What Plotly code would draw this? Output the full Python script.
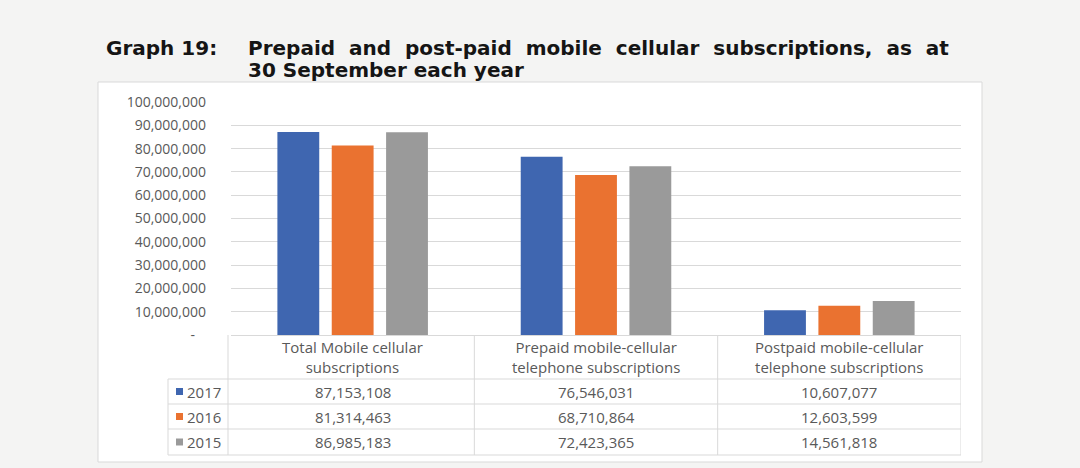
import plotly.graph_objects as go

# ---- data ----
categories = ["Total", "Prepaid", "Postpaid"]
category_labels = [
    "Total Mobile cellular<br>subscriptions",
    "Prepaid mobile-cellular<br>telephone subscriptions",
    "Postpaid mobile-cellular<br>telephone subscriptions",
]
years = ["2017", "2016", "2015"]
values_2017 = [87153108, 76546031, 10607077]
values_2016 = [81314463, 68710864, 12603599]
values_2015 = [86985183, 72423365, 14561818]
tick_values = [0, 10000000, 20000000, 30000000, 40000000, 50000000,
               60000000, 70000000, 80000000, 90000000, 100000000]
tick_labels = ["-\u00a0\u00a0\u00a0", "10,000,000", "20,000,000", "30,000,000", "40,000,000",
               "50,000,000", "60,000,000", "70,000,000", "80,000,000", "90,000,000",
               "100,000,000"]
title_prefix = "Graph 19:"
title_line1 = "Prepaid and post-paid mobile cellular subscriptions, as at"
title_line2 = "30 September each year"

series = [values_2017, values_2016, values_2015]
colors = ["#3f66b0", "#ea7230", "#9a9a9a"]

# ---- layout geometry (pixels) ----
W, H = 1080, 468
L, R, T, B = 231, 961, 102, 335
PW, PH = R - L, B - T


def px_x(x):
    return (x - L) / PW


def px_y(y):
    return (B - y) / PH


grid_col = "#d9d9d9"
txt_col = "#595959"
font_fam = "Open Sans, Liberation Sans, sans-serif"

fig = go.Figure()
for yr, vals, col in zip(years, series, colors):
    fig.add_trace(go.Bar(x=categories, y=vals, name=yr, marker_color=col,
                         marker_line_width=0, showlegend=False))

shapes = []
annotations = []

# chart frame
shapes.append(dict(type="rect", xref="paper", yref="paper",
                   x0=px_x(98), x1=px_x(982), y0=px_y(462), y1=px_y(82),
                   line=dict(color=grid_col, width=1), fillcolor="white", layer="below"))

# data table lines
row_lines = [379, 404, 429, 455]
for y in row_lines:
    shapes.append(dict(type="line", xref="paper", yref="paper",
                       x0=px_x(168), x1=1, y0=px_y(y), y1=px_y(y),
                       line=dict(color=grid_col, width=1)))
shapes.append(dict(type="line", xref="paper", yref="paper",
                   x0=px_x(168), x1=px_x(168), y0=px_y(379), y1=px_y(455),
                   line=dict(color=grid_col, width=1)))
shapes.append(dict(type="line", xref="paper", yref="paper",
                   x0=px_x(228), x1=px_x(228), y0=px_y(335), y1=px_y(455),
                   line=dict(color=grid_col, width=1)))
for xb in [0.5, 1.5, 2.5]:
    shapes.append(dict(type="line", xref="x", yref="paper",
                       x0=xb, x1=xb, y0=px_y(335), y1=px_y(455),
                       line=dict(color=grid_col, width=1)))

# header labels
for i, lab in enumerate(category_labels):
    annotations.append(dict(x=i, xref="x", y=px_y(357), yref="paper",
                            text=lab, showarrow=False, xanchor="center", yanchor="middle",
                            font=dict(family=font_fam, size=15, color=txt_col)))

row_centers = [391.5, 416.5, 442]
for r, (yr, vals, col) in enumerate(zip(years, series, colors)):
    yc = row_centers[r]
    shapes.append(dict(type="rect", xref="paper", yref="paper",
                       x0=px_x(176), x1=px_x(183), y0=px_y(yc + 3.5), y1=px_y(yc - 3.5),
                       line=dict(width=0), fillcolor=col))
    annotations.append(dict(x=px_x(185), xref="paper", y=px_y(yc), yref="paper",
                            text=yr, showarrow=False, xanchor="left", yanchor="middle",
                            font=dict(family=font_fam, size=15, color=txt_col)))
    for i, v in enumerate(vals):
        annotations.append(dict(x=i, xref="x", y=px_y(yc), yref="paper",
                                text=f"{v:,}", showarrow=False, xanchor="center",
                                yanchor="middle",
                                font=dict(family=font_fam, size=15, color=txt_col)))

# title (justified-looking word spacing)
title_font = dict(family="DejaVu Sans, Verdana, sans-serif", size=20, color="#151515")
line1 = title_line1.replace(" ", " \u00a0")
annotations.append(dict(x=px_x(104), xref="paper", y=px_y(48), yref="paper",
                        text=f"<b>{title_prefix}</b>", showarrow=False,
                        xanchor="left", yanchor="middle", font=title_font))
annotations.append(dict(x=px_x(246), xref="paper", y=px_y(48), yref="paper",
                        text=f"<b>{line1}</b>", showarrow=False,
                        xanchor="left", yanchor="middle", font=title_font))
annotations.append(dict(x=px_x(246), xref="paper", y=px_y(70), yref="paper",
                        text=f"<b>{title_line2}</b>", showarrow=False,
                        xanchor="left", yanchor="middle", font=title_font))

fig.update_layout(
    width=W, height=H,
    margin=dict(l=L, r=W - R, t=T, b=H - B, pad=0),
    paper_bgcolor="#f4f4f3",
    plot_bgcolor="rgba(0,0,0,0)",
    barmode="group", bargap=0.33, bargroupgap=0.23,
    shapes=shapes, annotations=annotations,
    xaxis=dict(showticklabels=False, showgrid=False, zeroline=False,
               showline=True, linecolor=grid_col, linewidth=1, ticks="",
               range=[-0.5, 2.5]),
    yaxis=dict(range=[0, 100000000], tickvals=tick_values, ticktext=tick_labels,
               showgrid=True, gridcolor=grid_col, gridwidth=1, zeroline=False,
               showline=False, ticks="", ticklabelstandoff=24,
               tickfont=dict(family=font_fam, size=14, color=txt_col)),
)

fig.write_html(
    "out.html",
    config={"displayModeBar": False},
    post_script="document.body.style.margin='0';document.body.style.overflow='hidden';",
)
